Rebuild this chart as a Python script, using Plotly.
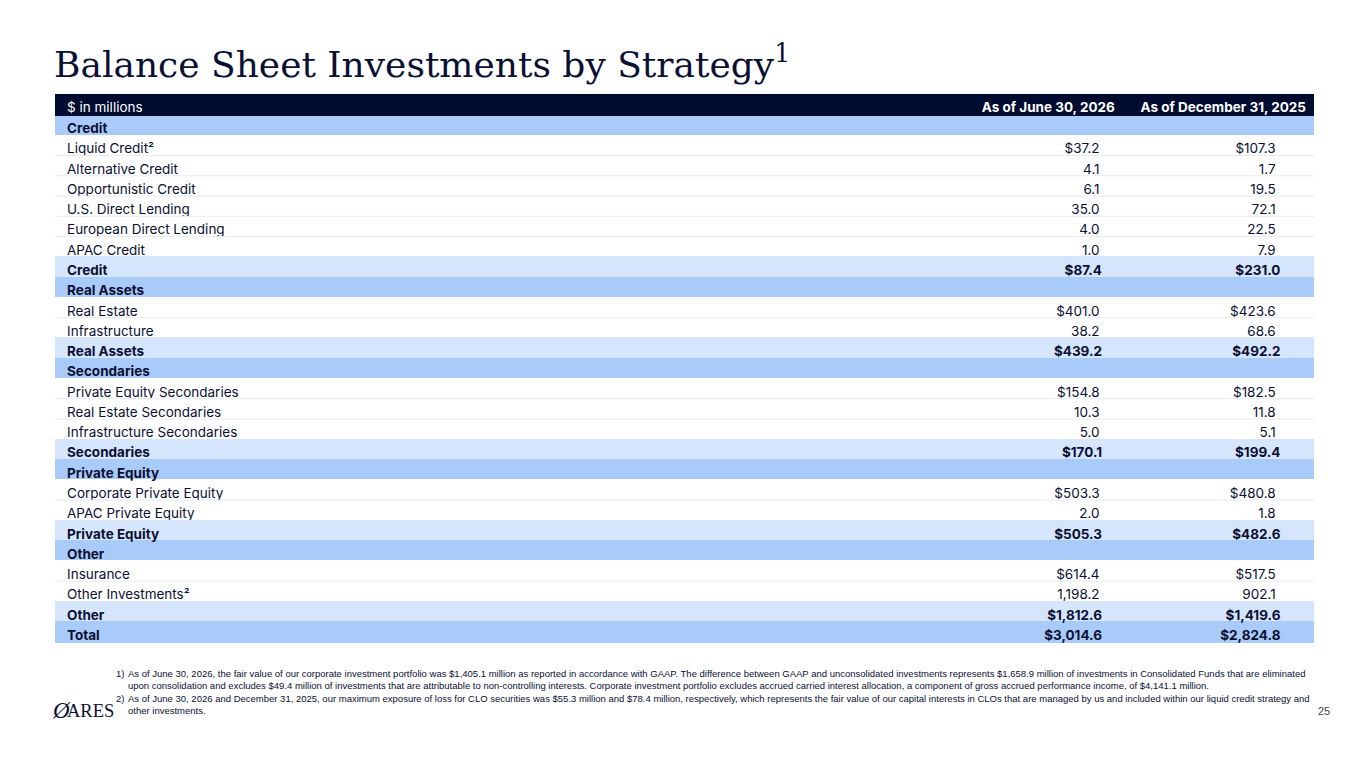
import plotly.graph_objects as go

# datos de la tabla ($ en millones)
labels = [
    "Credit", "Liquid Credit\u00b2", "Alternative Credit", "Opportunistic Credit",
    "U.S. Direct Lending", "European Direct Lending", "APAC Credit", "Credit",
    "Real Assets", "Real Estate", "Infrastructure", "Real Assets",
    "Secondaries", "Private Equity Secondaries", "Real Estate Secondaries",
    "Infrastructure Secondaries", "Secondaries",
    "Private Equity", "Corporate Private Equity", "APAC Private Equity", "Private Equity",
    "Other", "Insurance", "Other Investments\u00b2", "Other",
    "Total",
]
# tipo de fila: h = encabezado de estrategia, r = detalle, s = subtotal, t = total
row_kind = ["h", "r", "r", "r", "r", "r", "r", "s",
            "h", "r", "r", "s",
            "h", "r", "r", "r", "s",
            "h", "r", "r", "s",
            "h", "r", "r", "s",
            "t"]
jun_2026 = [None, 37.2, 4.1, 6.1, 35.0, 4.0, 1.0, 87.4,
            None, 401.0, 38.2, 439.2,
            None, 154.8, 10.3, 5.0, 170.1,
            None, 503.3, 2.0, 505.3,
            None, 614.4, 1198.2, 1812.6,
            3014.6]
dec_2025 = [None, 107.3, 1.7, 19.5, 72.1, 22.5, 7.9, 231.0,
            None, 423.6, 68.6, 492.2,
            None, 182.5, 11.8, 5.1, 199.4,
            None, 480.8, 1.8, 482.6,
            None, 517.5, 902.1, 1419.6,
            2824.8]
header_labels = ["$ in millions", "As of June 30, 2026", "As of December 31, 2025"]

title_text = "Balance Sheet Investments by Strategy<sup>1</sup>"
footnotes = [
    ("1)", "As of June 30, 2026, the fair value of our corporate investment portfolio was $1,405.1 million as reported in accordance with GAAP. The difference between GAAP and unconsolidated investments represents $1,658.9 million of investments in Consolidated Funds that are eliminated"),
    ("", "upon consolidation and excludes $49.4 million of investments that are attributable to non-controlling interests. Corporate investment portfolio excludes accrued carried interest allocation, a component of gross accrued performance income, of $4,141.1 million."),
    ("2)", "As of June 30, 2026 and December 31, 2025, our maximum exposure of loss for CLO securities was $55.3 million and $78.4 million, respectively, which represents the fair value of our capital interests in CLOs that are managed by us and included within our liquid credit strategy and"),
    ("", "other investments."),
]
page_number = "25"

# colores
NAVY = "#000b30"
TEXT = "#0b1033"
BLUE = "#a9cbf9"
LIGHT = "#d5e5fc"
GRID = "#e6eaf0"
CLEAR = "rgba(0,0,0,0)"

W, H = 1365, 768
OFF = 8  # margen del body de la pagina
TOP = 94
HEAD_H = 21
ROW_H = 20.27
LEFT, RIGHT = 55, 1314


def px(x):
    return (x - OFF) / W


def py(y):
    return 1 - (y - OFF) / H


def fmt(v, dollar):
    if v is None:
        return ""
    s = f"{v:,.1f}"
    return "$" + s if dollar else s


# columna 0 vacia = margen izquierdo; filas normales (regular) y totales (negrita)
n = len(labels)
reg = [[""] * n, [], [], []]
bold = [[""] * n, [], [], []]
fills = []
prev = "h"
for lab, kind, a, b in zip(labels, row_kind, jun_2026, dec_2025):
    dollar = kind in ("s", "t") or (kind == "r" and prev == "h")
    row = [lab, fmt(a, dollar), fmt(b, dollar)]
    for c in range(3):
        reg[c + 1].append(row[c] if kind == "r" else "")
        bold[c + 1].append(row[c] if kind != "r" else "")
    fills.append({"h": BLUE, "t": BLUE, "s": LIGHT, "r": "white"}[kind])
    prev = kind

common = dict(
    domain=dict(x=[px(LEFT), px(RIGHT)], y=[0, py(TOP)]),
    columnwidth=[4, 865, 192, 190],
)
cell_style = dict(
    align=["left", "left", "right", "right"],
    suffix=["", "", "\u00a0" * 4, "\u00a0" * 8],
    height=ROW_H,
)

fig = go.Figure()
fig.add_trace(go.Table(
    **common,
    header=dict(
        values=[""] + header_labels,
        fill_color=NAVY,
        line=dict(color=NAVY, width=1),
        align=["left", "left", "right", "right"],
        font=dict(family="Inter", size=13.5, color="white", weight=[400, 400, 700, 700]),
        height=HEAD_H,
    ),
    cells=dict(
        values=reg,
        fill_color=[fills] * 4,
        line=dict(color=[fills] * 4, width=1),
        font=dict(family="Inter", size=13.5, color=TEXT, weight=400),
        **cell_style,
    ),
))
fig.add_trace(go.Table(
    **common,
    header=dict(
        values=["", "", "", ""],
        fill_color=CLEAR,
        line=dict(color=CLEAR, width=0),
        height=HEAD_H,
    ),
    cells=dict(
        values=bold,
        fill_color=CLEAR,
        line=dict(color=CLEAR, width=0),
        font=dict(family="Inter", size=13.5, color=TEXT, weight=700),
        **cell_style,
    ),
))

# separadores finos entre filas blancas
shapes = []
for i in range(n - 1):
    if row_kind[i] == "r" and row_kind[i + 1] == "r":
        y = TOP + HEAD_H + (i + 1) * ROW_H
        shapes.append(dict(type="line", xref="paper", yref="paper",
                           x0=px(LEFT), x1=px(RIGHT), y0=py(y), y1=py(y),
                           line=dict(color=GRID, width=1), layer="above"))

annotations = [
    dict(text=title_text, x=px(52), y=py(87), xref="paper", yref="paper",
         xanchor="left", yanchor="bottom", showarrow=False,
         font=dict(family="DejaVu Serif", size=36, color=TEXT)),
    # logo
    dict(text="<i>Ø</i>", x=px(50), y=py(710), xref="paper", yref="paper",
         xanchor="left", yanchor="middle", showarrow=False,
         font=dict(family="Liberation Serif", size=23, color=TEXT)),
    dict(text="ARES", x=px(65), y=py(711), xref="paper", yref="paper",
         xanchor="left", yanchor="middle", showarrow=False,
         font=dict(family="Liberation Serif", size=18.5, color=TEXT)),
    dict(text=page_number, x=px(1332), y=py(711), xref="paper", yref="paper",
         xanchor="right", yanchor="middle", showarrow=False,
         font=dict(family="Liberation Sans", size=11, color="#444444")),
]
for k, (num, line) in enumerate(footnotes):
    yy = py(673 + k * 12.5)
    if num:
        annotations.append(dict(text=num, x=px(114), y=yy, xref="paper", yref="paper",
                                xanchor="left", yanchor="middle", showarrow=False,
                                font=dict(family="Liberation Sans", size=9.5, color=TEXT)))
    annotations.append(dict(text=line, x=px(126), y=yy, xref="paper", yref="paper",
                            xanchor="left", yanchor="middle", showarrow=False,
                            font=dict(family="Liberation Sans", size=9.5, color=TEXT)))

fig.update_layout(
    width=W, height=H,
    margin=dict(l=0, r=0, t=0, b=0),
    paper_bgcolor="white",
    shapes=shapes,
    annotations=annotations,
)

fig.write_html("out.html")
